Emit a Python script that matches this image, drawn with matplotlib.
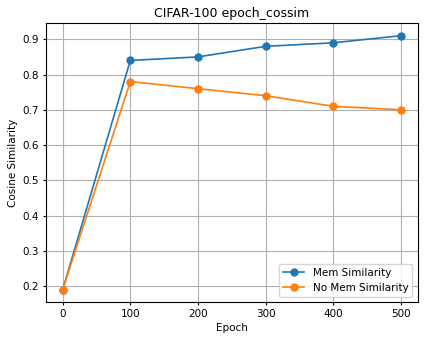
import matplotlib
matplotlib.use('Agg')
import matplotlib.pyplot as plt

epochs = [0, 100, 200, 300, 400, 500]
mem_sim = [0.19, 0.84, 0.85, 0.88, 0.89, 0.91]
no_mem_sim = [0.19, 0.78, 0.76, 0.74, 0.71, 0.70]

plt.rcParams['font.size'] = 7.5
plt.rcParams['xtick.major.size'] = 2.5
plt.rcParams['ytick.major.size'] = 2.5
plt.rcParams['xtick.major.pad'] = 2.5
plt.rcParams['ytick.major.pad'] = 2.5

fig, ax = plt.subplots(figsize=(4.24, 3.39), dpi=100)
ax.plot(epochs, mem_sim, marker='o', markersize=5, linewidth=1.2, label='Mem Similarity')
ax.plot(epochs, no_mem_sim, marker='o', markersize=5, linewidth=1.2, label='No Mem Similarity')
ax.set_title('CIFAR-100 epoch_cossim', fontsize=9, pad=4)
ax.set_xlabel('Epoch', labelpad=2.5)
ax.set_ylabel('Cosine Similarity', labelpad=3)
ax.grid(True)
ax.legend(loc='lower right')

fig.subplots_adjust(left=0.108, right=0.985, top=0.932, bottom=0.108)
plt.savefig('out.png', dpi=100)
plt.close()
